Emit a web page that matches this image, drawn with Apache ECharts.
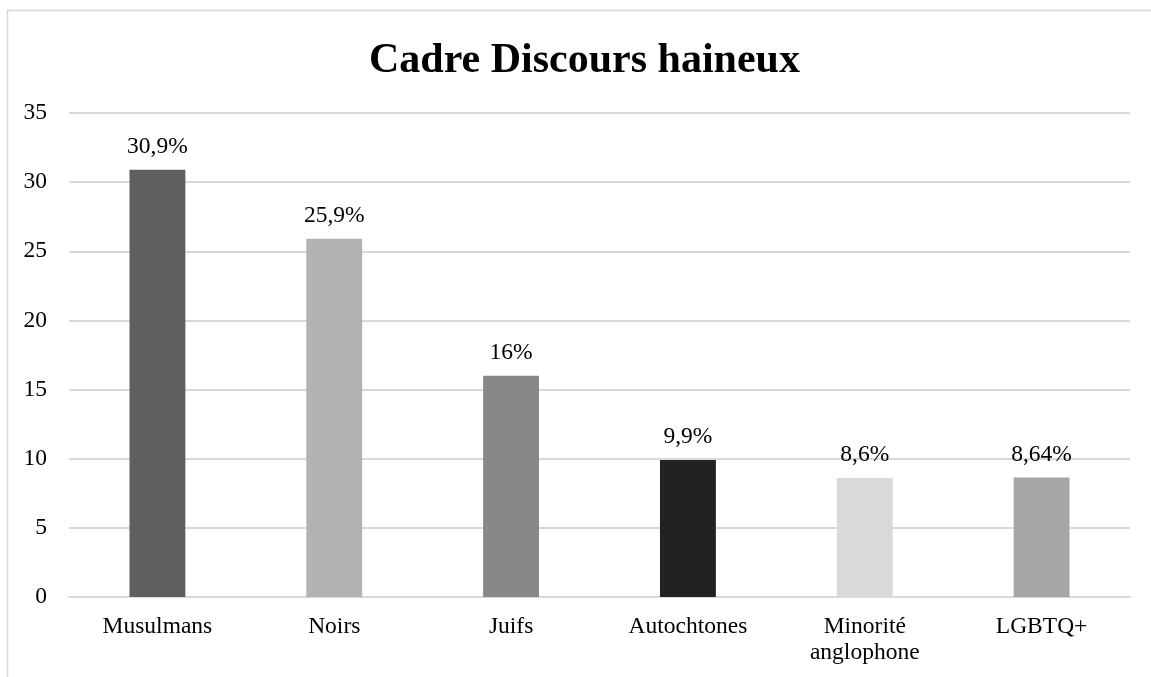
<!DOCTYPE html>
<html>
<head>
<meta charset="utf-8">
<script src="https://cdn.jsdelivr.net/npm/echarts@6/dist/echarts.min.js"></script>
<style>html,body{margin:0;padding:0;background:#fff;}#c{width:1151px;height:677px;}</style>
</head>
<body>
<div id="c"></div>
<script>
const categories = ['Musulmans', 'Noirs', 'Juifs', 'Autochtones', 'Minorité\nanglophone', 'LGBTQ+'];
const values = [30.9, 25.9, 16, 9.9, 8.6, 8.64];
const valueLabels = ['30,9%', '25,9%', '16%', '9,9%', '8,6%', '8,64%'];
const barColors = ['#5f5f5f', '#b2b2b2', '#888888', '#222222', '#d9d9d9', '#a6a6a6'];
const yTicks = [0, 5, 10, 15, 20, 25, 30, 35];

const font = '"Liberation Serif", "Times New Roman", serif';
const chart = echarts.init(document.getElementById('c'));
chart.setOption({
  animation: false,
  textStyle: { fontFamily: font },
  graphic: [{
    type: 'rect', shape: { x: 7.5, y: 10.5, width: 1300, height: 800 },
    style: { fill: 'none', stroke: '#d9d9d9', lineWidth: 1.5 }, silent: true
  }],
  title: {
    text: 'Cadre Discours haineux', left: 364, top: 35,
    textStyle: { fontFamily: font, fontSize: 42, fontWeight: 'bold', color: '#000' }
  },
  grid: { left: 69, right: 21, top: 113, bottom: 80, containLabel: false },
  xAxis: {
    type: 'category', data: categories,
    axisLine: { lineStyle: { color: '#d9d9d9', width: 2 } },
    axisTick: { show: false },
    axisLabel: { color: '#000', fontSize: 23.5, fontFamily: font, margin: 17, lineHeight: 26, interval: 0 }
  },
  yAxis: {
    type: 'value', min: 0, max: 35, interval: 5,
    axisLine: { show: false }, axisTick: { show: false },
    axisLabel: { color: '#000', fontSize: 23.5, fontFamily: font, margin: 22,
      formatter: v => yTicks.includes(v) ? String(v) : '' },
    splitLine: { lineStyle: { color: '#d9d9d9', width: 2 } }
  },
  series: [{
    type: 'bar', barWidth: '31.6%',
    data: values.map((v, i) => ({ value: v, itemStyle: { color: barColors[i] } })),
    label: {
      show: true, position: 'top', distance: 11, color: '#000', fontSize: 23.5, fontFamily: font,
      formatter: p => valueLabels[p.dataIndex]
    }
  }]
});
</script>
</body>
</html>
